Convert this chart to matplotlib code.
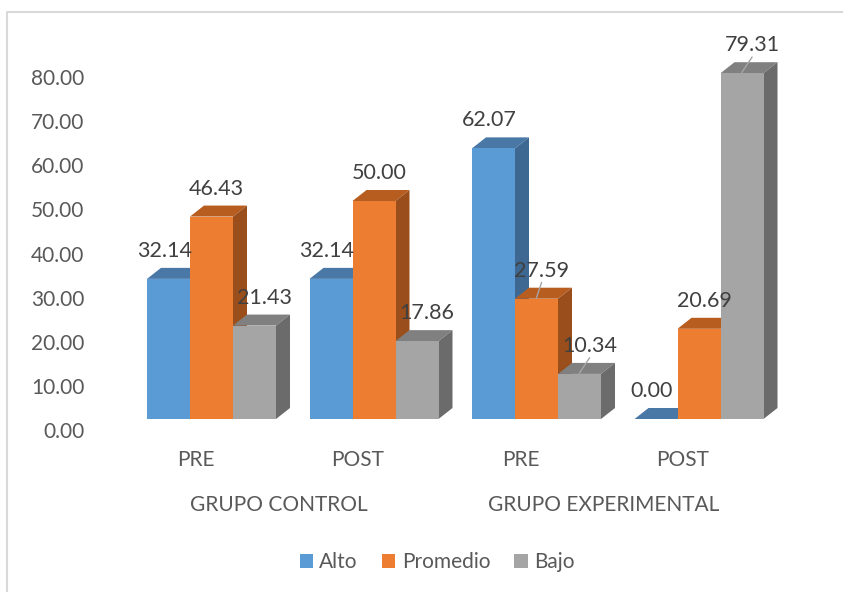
import numpy as np
import matplotlib.pyplot as plt
from matplotlib.patches import Polygon, Rectangle
from matplotlib.lines import Line2D

# data
categories = ['PRE', 'POST', 'PRE', 'POST']
groups = ['GRUPO CONTROL', 'GRUPO EXPERIMENTAL']
series = ['Alto', 'Promedio', 'Bajo']
alto = [32.14, 32.14, 62.07, 0.00]
promedio = [46.43, 50.00, 27.59, 20.69]
bajo = [21.43, 17.86, 10.34, 79.31]
ticks = [0, 10, 20, 30, 40, 50, 60, 70, 80]

front = ['#5B9BD5', '#ED7D31', '#A5A5A5']
top = ['#4A78A6', '#B85D20', '#808080']
side = ['#3E6891', '#9A4E1B', '#6B6B6B']
txt = '#595959'

plt.rcParams['font.family'] = ['Lato', 'DejaVu Sans']

W, H = 843, 592
fig = plt.figure(figsize=(W / 100, H / 100), dpi=100)
ax = fig.add_axes([0, 0, 1, 1])
ax.set_axis_off()

# pixel geometry of the excel 3d look
xpx = 162.5     # px per category
ypx = 4.36      # px per value unit
x0px = 211.5    # px of first category centre
base = 173      # px of front baseline from bottom
ax.set_xlim(-x0px / xpx, (W - x0px) / xpx)
ax.set_ylim(-base / ypx, (H - base) / ypx)

bw = 43 / xpx
dx = 14 / xpx
dy = 11 / ypx
label_dx = [-4, 5, 10]

vals_all = [alto, promedio, bajo]
for i in range(len(categories)):
    for j, vals in enumerate(vals_all):
        v = vals[i]
        xl = i + (j - 1) * bw - bw / 2
        xr = xl + bw
        z = 2 + j * 3
        ax.add_patch(Polygon([(xl, v), (xr, v), (xr + dx, v + dy), (xl + dx, v + dy)],
                             closed=True, fc=top[j], ec='none', zorder=z))
        if v > 0:
            ax.add_patch(Polygon([(xr, 0), (xr + dx, dy), (xr + dx, v + dy), (xr, v)],
                                 closed=True, fc=side[j], ec='none', zorder=z))
            ax.add_patch(Rectangle((xl, 0), bw, v, fc=front[j], ec='none', zorder=z + 1))
        cx = xl + bw / 2
        lx = cx + label_dx[j] / xpx
        ax.text(lx, v + 28 / ypx, '%.2f' % v, ha='center', va='center',
                fontsize=15.5, color='#404040', zorder=20)

# leader lines excel drew for a few moved labels
for i, j in [(2, 1), (2, 2), (3, 2)]:
    v = vals_all[j][i]
    cx = i + (j - 1) * bw
    lx = cx + label_dx[j] / xpx
    ax.plot([lx, cx], [v + 16 / ypx, v + 1 / ypx], color='#a6a6a6', lw=1, zorder=19)

# category and group labels
for i, c in enumerate(categories):
    ax.text(i - 16 / xpx, (592 - 460 - base) / ypx, c, ha='center', va='center',
            fontsize=15, color=txt)
for k, g in enumerate(groups):
    ax.text(2 * k + 0.5 - 14 / xpx, (592 - 505 - base) / ypx, g, ha='center', va='center',
            fontsize=15, color=txt)

# value axis labels (back wall scale)
ax_t = fig.add_axes([87 / W, 0, 0.001, 1])
sc = 4.4125
ax_t.set_ylim(-(H - 430) / sc, 430 / sc)
ax_t.set_yticks(ticks)
ax_t.set_yticklabels(['%.2f' % t for t in ticks], fontsize=15, color=txt)
ax_t.tick_params(axis='y', length=0, pad=2)
ax_t.set_xticks([])
for s in ax_t.spines.values():
    s.set_visible(False)
ax_t.patch.set_alpha(0)

# legend
handles = [Rectangle((0, 0), 1, 1, fc=c, ec='none') for c in front]
fig.legend(handles, series, loc='center', bbox_to_anchor=(437 / W, 1 - 562 / H), ncol=3,
           frameon=False, handlelength=0.65, handleheight=0.65, handletextpad=0.3,
           columnspacing=1.15, fontsize=15, labelcolor=txt)

# chart area border (cropped at right and bottom)
fig.add_artist(Line2D([7 / W, 7 / W, 1], [0, 1 - 12 / H, 1 - 12 / H],
                      transform=fig.transFigure, color='#d9d9d9', lw=1.5))

fig.savefig('out.png', dpi=100)
